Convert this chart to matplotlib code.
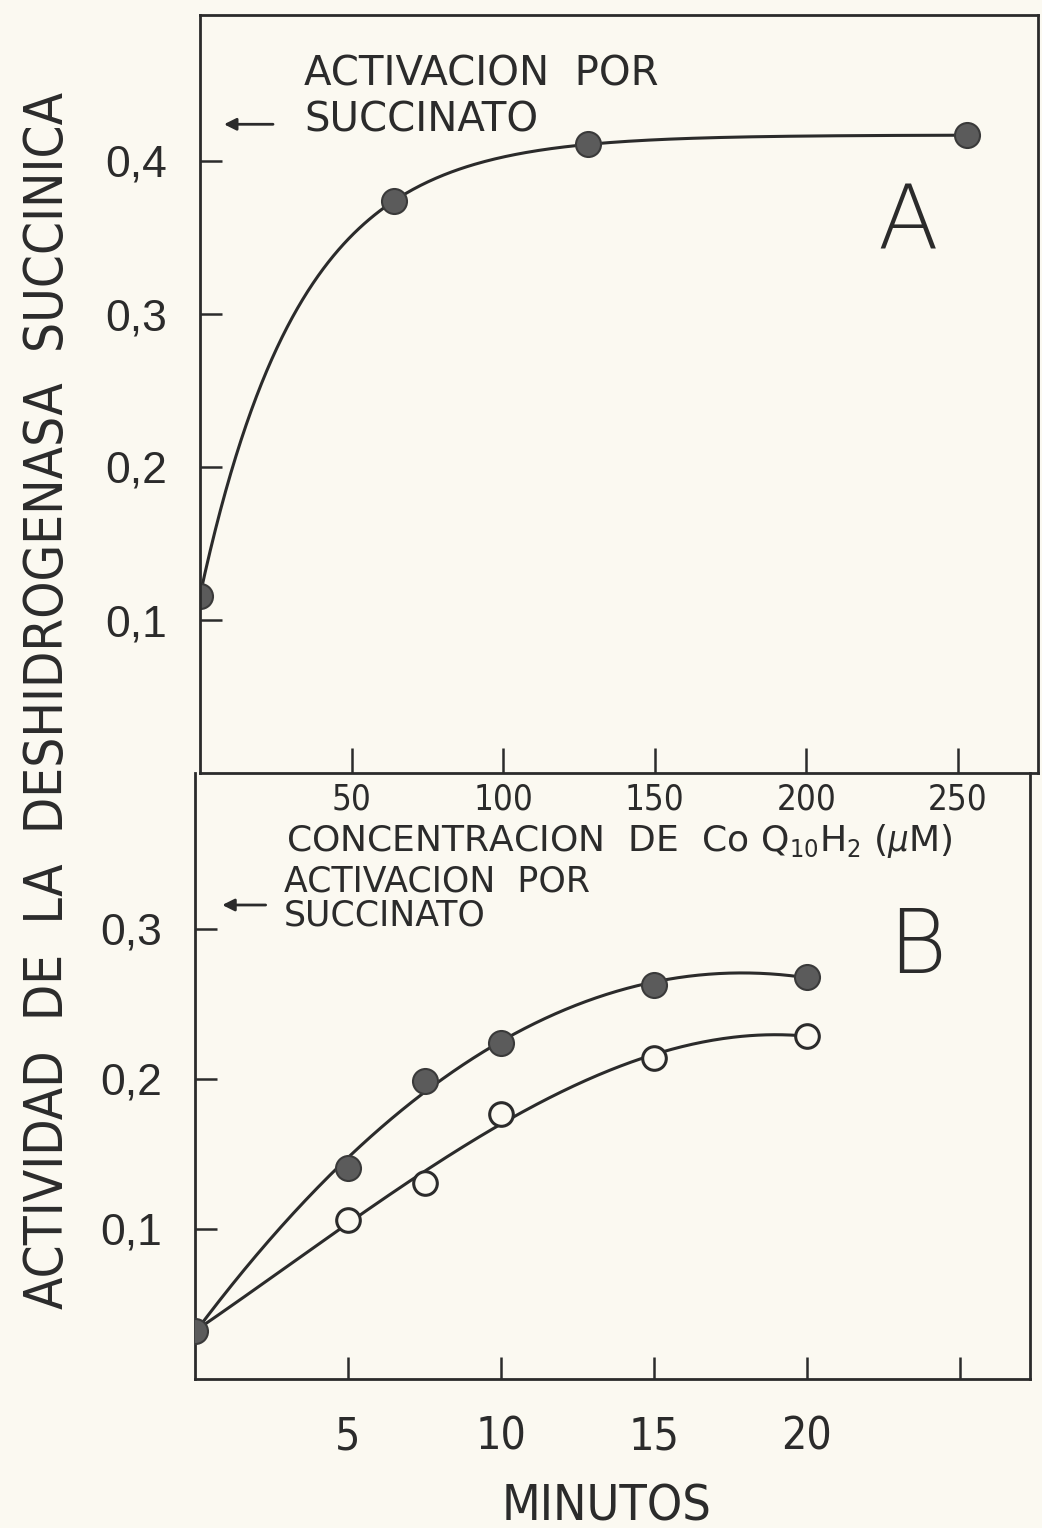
import matplotlib
matplotlib.use("Agg")
import matplotlib.pyplot as plt
import numpy as np

# Panel A: activity vs CoQ10H2 concentration (uM)
conc_a = [0, 64, 128, 253]
act_a = [0.116, 0.374, 0.411, 0.417]
succinato_a = 0.424

# Panel B: activity vs time (min), two series
min_b = [0, 5, 7.5, 10, 15, 20]
act_b_filled = [0.032, 0.141, 0.199, 0.224, 0.263, 0.268]
act_b_open = [0.032, 0.106, 0.131, 0.177, 0.214, 0.229]
succinato_b = 0.316

yticks_a = [0.1, 0.2, 0.3, 0.4]
yticks_b = [0.1, 0.2, 0.3]
xticks_a = [50, 100, 150, 200, 250]
xticks_b = [5, 10, 15, 20, 25]
xticklabels_b = ['5', '10', '15', '20', '']

BG = '#fbf9f1'
INK = '#2b2b2b'
WIDE = ['Liberation Sans', 'DejaVu Sans']

plt.rcParams['font.family'] = ['DejaVu Sans']
plt.rcParams['font.stretch'] = 'condensed'

W, H = 1042, 1528
fig = plt.figure(figsize=(W / 100, H / 100), dpi=100, facecolor=BG)


def px_axes(x0, y0, x1, y1):
    # axes box from pixel corners (top-left origin)
    return fig.add_axes([x0 / W, 1 - y1 / H, (x1 - x0) / W, (y1 - y0) / H])


def label(x, y, s, **kw):
    # figure text placed by its top-left corner in pixels
    kw.setdefault('fontsize', 25)
    kw.setdefault('linespacing', 1.0)
    fig.text(x / W, 1 - y / H, s, color=INK, ha='left', va='top',
             stretch='normal', **kw)


ax_a = px_axes(200, 15, 1038, 773)
ax_b = px_axes(195, 773, 1030, 1379)

for ax in (ax_a, ax_b):
    ax.set_facecolor('none')
    for s in ax.spines.values():
        s.set_color(INK)
        s.set_linewidth(2.0)
    ax.tick_params(direction='in', color=INK, width=1.8, labelcolor=INK)

# ---- panel A ----
ax_a.set_xlim(0, 838 / 3.032)
ax_a.set_ylim(0, 758 / 1530)
ax_a.set_xticks(xticks_a)
ax_a.set_xticklabels([str(v) for v in xticks_a], fontsize=25)
ax_a.tick_params(axis='x', length=18, pad=7)
ax_a.set_yticks(yticks_a)
ax_a.set_yticklabels([f'{v:.1f}'.replace('.', ',') for v in yticks_a],
                     fontsize=32, family=WIDE, stretch='normal')
ax_a.tick_params(axis='y', length=16, pad=24)

# saturating curve through the measured points
plateau = act_a[-1]
amp = plateau - act_a[0]
tau = -conc_a[1] / np.log((plateau - act_a[1]) / amp)
xs = np.linspace(0, conc_a[-1], 300)
ax_a.plot(xs, plateau - amp * np.exp(-xs / tau), color=INK, lw=2.2)
ax_a.plot(conc_a, act_a, 'o', ms=18, mfc='#5b5b5b', mec='#3a3a3a', mew=1.5)

label(286, 822, r'CONCENTRACION  DE  Co Q$_{10}$H$_{2}$ ($\mu$M)', fontsize=26)
label(304, 54, 'ACTIVACION  POR\nSUCCINATO', fontsize=29, linespacing=1.22)
ax_a.annotate('', xy=(7, succinato_a), xytext=(25, succinato_a),
              arrowprops=dict(arrowstyle='-|>', color=INK, lw=2,
                              mutation_scale=18))
ax_a.text(0.845, 0.725, 'A', transform=ax_a.transAxes, fontsize=64,
          color=INK, fontweight='light', stretch='normal',
          ha='center', va='center')

# ---- panel B ----
ax_b.spines['top'].set_visible(False)
ax_b.set_xlim(0, 835 / 30.6)
ax_b.set_ylim(0, 606 / 1500)
ax_b.set_xticks(xticks_b)
ax_b.set_xticklabels(xticklabels_b, fontsize=32)
ax_b.tick_params(axis='x', length=16, pad=26)
ax_b.set_yticks(yticks_b)
ax_b.set_yticklabels([f'{v:.1f}'.replace('.', ',') for v in yticks_b],
                     fontsize=32, family=WIDE, stretch='normal')
ax_b.tick_params(axis='y', length=16, pad=24)

ts = np.linspace(0, 20, 300)
for ys in (act_b_filled, act_b_open):
    coef = np.polyfit(min_b, ys, 3)
    ax_b.plot(ts, np.polyval(coef, ts), color=INK, lw=2.2)
ax_b.plot(min_b, act_b_filled, 'o', ms=18, mfc='#5b5b5b', mec='#3a3a3a',
          mew=1.5, clip_on=True, zorder=3)
ax_b.plot(min_b[1:], act_b_open[1:], 'o', ms=17, mfc=BG, mec=INK, mew=2.2,
          zorder=3)

ax_b.set_xlabel('MINUTOS', fontsize=36, color=INK)
ax_b.xaxis.set_label_coords(0.493, -0.17)
label(284, 865, 'ACTIVACION  POR\nSUCCINATO')
ax_b.annotate('', xy=(0.8, succinato_b), xytext=(2.4, succinato_b),
              arrowprops=dict(arrowstyle='-|>', color=INK, lw=2,
                              mutation_scale=18))
ax_b.text(0.865, 0.71, 'B', transform=ax_b.transAxes, fontsize=64,
          color=INK, fontweight='light', stretch='normal',
          ha='center', va='center')

fig.text(48 / W, 1 - 700 / H, 'ACTIVIDAD  DE  LA  DESHIDROGENASA  SUCCINICA',
         rotation=90, fontsize=38, color=INK, ha='center', va='center')

fig.savefig('out.png', dpi=100, facecolor=BG)
